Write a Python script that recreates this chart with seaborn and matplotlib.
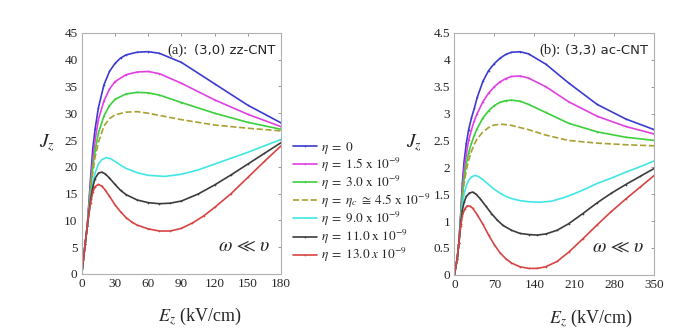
import numpy as np
import pandas as pd
import matplotlib
matplotlib.use('Agg')
import matplotlib.pyplot as plt
import seaborn as sns

# (a) (3,0) zz-CNT, E_z in kV/cm
ez_a = {
    'blue':    [0, 3, 5, 8, 10, 12, 15, 20, 25, 30, 35, 40, 50, 60, 70, 90, 120, 150, 180],
    'magenta': [0, 3, 5, 8, 10, 12, 15, 20, 25, 30, 40, 50, 60, 70, 90, 120, 150, 180],
    'green':   [0, 3, 5, 8, 10, 12, 15, 20, 25, 30, 40, 50, 60, 70, 90, 120, 150, 180],
    'dashed':  [0, 3, 5, 8, 10, 12, 15, 20, 25, 30, 40, 50, 60, 70, 90, 120, 150, 180],
    'cyan':    [0, 3, 5, 8, 10, 12, 15, 18, 22, 26, 30, 35, 40, 50, 60, 75, 90, 105, 120, 150, 180],
    'black':   [0, 3, 5, 8, 10, 12, 15, 18, 21, 25, 30, 35, 40, 50, 60, 70, 80, 90, 105, 120, 135, 150, 165, 180],
    'red':     [0, 3, 5, 8, 10, 12, 15, 18, 21, 25, 30, 35, 40, 45, 50, 60, 70, 80, 90, 100, 110, 120, 135, 150, 165, 180],
}
jz_a = {
    'blue':    [0, 5.5, 9, 18, 23.5, 27, 31, 35.3, 37.8, 39.3, 40.3, 40.9, 41.4, 41.5, 41.2, 39.5, 35.5, 31.5, 28.2],
    'magenta': [0, 5.5, 9, 17, 21.5, 25, 28.8, 32.3, 34.5, 35.9, 37.2, 37.7, 37.8, 37.4, 35.6, 32.5, 29.8, 27.5],
    'green':   [0, 5.5, 9, 16, 20, 23, 26.3, 29.5, 31.4, 32.6, 33.6, 33.9, 33.8, 33.4, 32, 30, 28.3, 27],
    'dashed':  [0, 5.5, 9, 15.5, 19, 21.8, 24.5, 27.6, 29, 29.7, 30.2, 30.3, 30, 29.6, 28.8, 27.8, 27.2, 26.7],
    'cyan':    [0, 5.5, 9, 14.5, 17, 18.8, 20.5, 21.3, 21.7, 21.5, 21, 20.3, 19.7, 18.9, 18.4, 18.2, 18.6, 19.4, 20.5, 22.7, 25.1],
    'black':   [0, 5.5, 9, 14, 16.3, 17.8, 18.8, 19, 18.7, 17.9, 16.7, 15.6, 14.8, 13.8, 13.3, 13.1, 13.2, 13.6, 14.9, 16.6, 18.5, 20.5, 22.5, 24.5],
    'red':     [0, 5.5, 9, 13.3, 15.3, 16.3, 16.7, 16.4, 15.7, 14.5, 12.9, 11.6, 10.5, 9.7, 9.1, 8.4, 8.0, 8.0, 8.5, 9.5, 10.8, 12.4, 15, 18, 21, 23.9],
}

# (b) (3,3) ac-CNT
ez_b = {
    'blue':    [0, 5, 8, 11, 14, 17, 21, 25, 30, 35, 40, 50, 60, 70, 80, 90, 100, 115, 130, 160, 200, 250, 300, 350],
    'magenta': [0, 5, 8, 11, 14, 17, 21, 25, 30, 35, 40, 50, 60, 70, 80, 90, 100, 115, 130, 160, 200, 250, 300, 350],
    'green':   [0, 5, 8, 11, 14, 17, 21, 25, 30, 35, 40, 50, 60, 70, 80, 90, 100, 115, 130, 160, 200, 250, 300, 350],
    'dashed':  [0, 5, 8, 11, 14, 17, 21, 25, 30, 35, 40, 50, 60, 70, 85, 100, 130, 160, 200, 250, 300, 350],
    'cyan':    [0, 5, 8, 11, 14, 17, 21, 25, 30, 36, 42, 50, 60, 70, 80, 90, 100, 115, 130, 150, 170, 190, 210, 230, 250, 275, 300, 325, 350],
    'black':   [0, 5, 8, 11, 14, 17, 21, 26, 32, 38, 45, 55, 65, 75, 85, 100, 115, 130, 145, 160, 180, 200, 225, 250, 275, 300, 325, 350],
    'red':     [0, 5, 8, 11, 14, 18, 22, 27, 32, 40, 50, 60, 70, 80, 90, 100, 115, 130, 145, 160, 180, 200, 225, 250, 275, 300, 325, 350],
}
jz_b = {
    'blue':    [0, 0.3, 0.6, 1.1, 1.7, 2.1, 2.45, 2.7, 2.92, 3.1, 3.3, 3.6, 3.8, 3.93, 4.03, 4.1, 4.14, 4.15, 4.11, 3.92, 3.57, 3.17, 2.9, 2.7],
    'magenta': [0, 0.3, 0.6, 1.1, 1.6, 1.95, 2.25, 2.5, 2.7, 2.87, 3.0, 3.22, 3.38, 3.5, 3.59, 3.65, 3.69, 3.7, 3.66, 3.5, 3.22, 2.95, 2.76, 2.62],
    'green':   [0, 0.3, 0.6, 1.05, 1.5, 1.8, 2.07, 2.27, 2.45, 2.6, 2.72, 2.92, 3.05, 3.15, 3.21, 3.24, 3.25, 3.23, 3.17, 3.02, 2.82, 2.66, 2.56, 2.5],
    'dashed':  [0, 0.3, 0.6, 1.0, 1.4, 1.7, 1.95, 2.13, 2.3, 2.43, 2.53, 2.66, 2.74, 2.79, 2.8, 2.78, 2.7, 2.6, 2.5, 2.45, 2.42, 2.4],
    'cyan':    [0, 0.3, 0.6, 1.0, 1.3, 1.5, 1.66, 1.76, 1.82, 1.85, 1.83, 1.77, 1.68, 1.59, 1.52, 1.46, 1.42, 1.38, 1.36, 1.35, 1.37, 1.43, 1.51, 1.6, 1.7, 1.8, 1.91, 2.01, 2.12],
    'black':   [0, 0.3, 0.6, 0.95, 1.2, 1.35, 1.46, 1.52, 1.54, 1.5, 1.42, 1.28, 1.14, 1.02, 0.92, 0.83, 0.77, 0.75, 0.74, 0.76, 0.83, 0.95, 1.14, 1.34, 1.52, 1.68, 1.83, 1.98],
    'red':     [0, 0.3, 0.6, 0.9, 1.1, 1.22, 1.28, 1.28, 1.24, 1.12, 0.94, 0.74, 0.56, 0.41, 0.3, 0.22, 0.15, 0.12, 0.12, 0.15, 0.25, 0.42, 0.67, 0.93, 1.18, 1.41, 1.63, 1.85],
}

series = ['blue', 'magenta', 'green', 'dashed', 'cyan', 'black', 'red']
labels = [r'$\eta\;=\;0$',
          r'$\eta\;=\;1.5\ \mathrm{x}\ 10^{-9}$',
          r'$\eta\;=\;3.0\ \mathrm{x}\ 10^{-9}$',
          r'$\eta\;=\;\eta_c\;\cong\;4.5\ \mathrm{x}\ 10^{-9}$',
          r'$\eta\;=\;9.0\ \mathrm{x}\ 10^{-9}$',
          r'$\eta\;=\;11.0\ \mathrm{x}\ 10^{-9}$',
          r'$\eta\;=\;13.0\ x\ 10^{-9}$']
colors = ['#3b3bd0', '#e040e0', '#3ccf3c', '#a8a030', '#40e6e6', '#3c3c3c', '#d84444']
styles = ['-', '-', '-', '--', '-', '-', '-']
markers = ['.', '.', '.', None, None, '.', '.']

sns.set_style('white')
plt.rcParams['font.family'] = ['Liberation Serif', 'DejaVu Serif']
plt.rcParams['mathtext.fontset'] = 'stix'

fig = plt.figure(figsize=(6.99, 3.36), dpi=100)
ax1 = fig.add_axes([0.117, 0.185, 0.285, 0.717])
ax2 = fig.add_axes([0.650, 0.182, 0.286, 0.720])


def draw(ax, ez, jz, xmax, xticks, ymax, yticks, ytl, title, xlab_x, ylab_x):
    for k, c, ls, m, lab in zip(series, colors, styles, markers, labels):
        df = pd.DataFrame({'E': ez[k], 'J': jz[k]})
        sns.lineplot(data=df, x='E', y='J', ax=ax, color=c, linestyle=ls,
                     marker=m, markersize=2.5, markeredgewidth=0,
                     linewidth=1.2, label=lab)
    ax.set_xlim(0, xmax)
    ax.set_ylim(0, ymax)
    ax.set_xticks(xticks)
    ax.set_yticks(yticks)
    ax.set_yticklabels(ytl)
    ax.tick_params(direction='in', length=2.5, width=0.6, labelsize=9.5,
                   top=True, right=True, color='#888888', pad=3)
    for s in ax.spines.values():
        s.set_color('#b0b0b0')
        s.set_linewidth(0.8)
    ax.set_xlabel(r'$E_z$ (kV/cm)', fontsize=13)
    ax.xaxis.set_label_coords(xlab_x, -0.135)
    ax.xaxis.label.set_va('top')
    ax.set_ylabel(r'$J_z$', fontsize=14, rotation=0, va='center', ha='center')
    ax.yaxis.set_label_coords(ylab_x, 0.544)
    ax.text(0.97, 0.955, title[1], transform=ax.transAxes, ha='right', va='top',
            fontsize=9.5, family='DejaVu Sans')
    ax.text(0.97 - title[2], 0.955, title[0], transform=ax.transAxes, ha='right', va='top',
            fontsize=10.5)
    ax.text(0.95, 0.08, r'$\omega\,\ll\,\upsilon$', transform=ax.transAxes,
            ha='right', va='bottom', fontsize=14)
    ax.get_legend().remove()


draw(ax1, ez_a, jz_a, 180, [0, 30, 60, 90, 120, 150, 180], 45,
     list(range(0, 50, 5)), [str(v) for v in range(0, 50, 5)],
     ('(a):', '(3,0) zz-CNT', 0.44), 0.59, -0.176)
draw(ax2, ez_b, jz_b, 350, [0, 70, 140, 210, 280, 350], 4.5,
     [0, 0.5, 1, 1.5, 2, 2.5, 3, 3.5, 4, 4.5],
     ['0', '0.5', '1', '1.5', '2', '2.5', '3', '3.5', '4', '4.5'],
     ('(b):', '(3,3) ac-CNT', 0.44), 0.68, -0.2)

handles = ax1.get_lines()[:7]
fig.legend(handles, labels, loc='upper left', bbox_to_anchor=(0.412, 0.6),
           frameon=False, fontsize=9.5, handlelength=1.8, handletextpad=0.3,
           labelspacing=0.0, borderaxespad=0)

fig.savefig('out.png', dpi=100)
